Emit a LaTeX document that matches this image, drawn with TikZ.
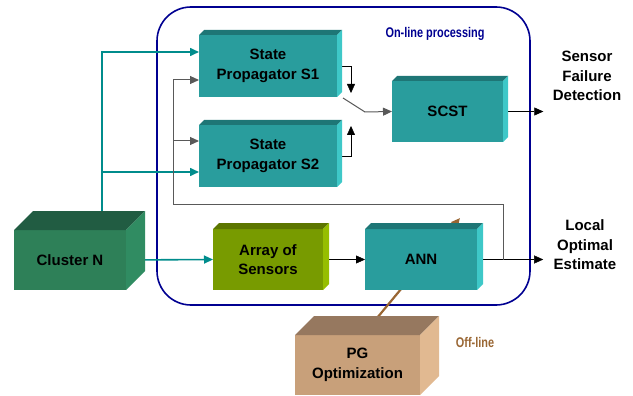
\documentclass[tikz,border=0pt]{standalone}
\usepackage{fontspec}
\setmainfont{Liberation Sans}
\newfontfamily\narrowfont[FakeStretch=0.78]{Liberation Sans}
\usetikzlibrary{arrows.meta,calc,positioning,backgrounds}

\definecolor{tealfront}{RGB}{41,157,157}
\definecolor{tealtop}{RGB}{30,118,118}
\definecolor{tealside}{RGB}{62,200,200}
\definecolor{clusfront}{RGB}{46,128,88}
\definecolor{clustop}{RGB}{33,92,66}
\definecolor{clusside}{RGB}{48,140,98}
\definecolor{arrfront}{RGB}{120,155,0}
\definecolor{arrtop}{RGB}{92,118,0}
\definecolor{arrside}{RGB}{150,190,0}
\definecolor{pgfront}{RGB}{200,160,122}
\definecolor{pgtop}{RGB}{150,120,95}
\definecolor{pgside}{RGB}{225,185,145}
\definecolor{feedteal}{RGB}{0,140,140}
\definecolor{framenavy}{RGB}{0,0,145}
\definecolor{offbrown}{RGB}{153,102,51}

% top and side faces of a solid block: node, top colour, side colour, depth
\newcommand{\boxfaces}[4]{%
  \fill[#2] (#1.north west) -- ++(#4,-#4) -- ($(#1.north east)+(#4,-#4)$) -- (#1.north east) -- cycle;
  \fill[#3] (#1.north east) -- ++(#4,-#4) -- ($(#1.south east)+(#4,-#4)$) -- (#1.south east) -- cycle;
}

\begin{document}
\begin{tikzpicture}
    [x=1pt, y=-1pt, >={Triangle[length=9pt,width=8pt]},
    block/.style={fill=#1, inner sep=0pt, outer sep=0pt, align=center,
      font=\bfseries\fontsize{15}{19.5}\selectfont},
    feed/.style={draw=feedteal, line width=1.6pt},
    back/.style={draw=black!65, line width=1pt},
    caption/.style={align=center, font=\bfseries\fontsize{15}{19.5}\selectfont}]

  \useasboundingbox (0,0) rectangle (633,396);

  \node[block=tealfront, minimum width=138pt, minimum height=62pt] (s1) at (268,66) {State\\Propagator S1};
  \boxfaces{s1}{tealtop}{tealside}{5}
  \node[block=tealfront, minimum width=138pt, minimum height=62pt] (s2) at (268,156) {State\\Propagator S2};
  \boxfaces{s2}{tealtop}{tealside}{5}
  \node[block=tealfront, minimum width=111pt, minimum height=61pt] (scst) at (447.5,111.5) {SCST};
  \boxfaces{scst}{tealtop}{tealside}{5}
  \node[block=arrfront, minimum width=110pt, minimum height=61pt] (arr) at (268,259.5) {Array of\\Sensors};
  \boxfaces{arr}{arrtop}{arrside}{6}
  \node[block=tealfront, minimum width=112pt, minimum height=61pt] (ann) at (421,259.5) {ANN};
  \boxfaces{ann}{tealtop}{tealside}{6}
  \node[block=clusfront, minimum width=112pt, minimum height=60pt] (cluster) at (70,260) {Cluster N};
  \boxfaces{cluster}{clustop}{clusside}{19}
  \node[block=pgfront, minimum width=125pt, minimum height=60pt] (pg) at (357.5,365) {PG\\Optimization};
  \boxfaces{pg}{pgtop}{pgside}{19}

  \node[caption] (sfd) at (587,76) {Sensor\\Failure\\Detection};
  \node[caption] (est) at (585,245) {Local\\Optimal\\Estimate};
  \node[text=framenavy, font=\narrowfont\bfseries\fontsize{14}{16}\selectfont] (online) at (435,34) {On-line processing};
  \node[text=offbrown, font=\narrowfont\bfseries\fontsize{14}{16}\selectfont] (offline) at (475,342) {Off-line};

  \begin{pgfonlayer}{background}
    \draw[framenavy, line width=1.6pt, rounded corners=34pt] (157,7) rectangle (530,305);

    \coordinate (split) at ($(cluster.north)+(32,0)$);
    \coordinate (s2in) at ($(s2.west)+(0,16)$);
    \draw[feed,->] (split) |- ($(s1.west)+(0,-14)$);
    \draw[feed,->] (split |- s2in) -- (s2in);
    \draw[feed,->] (cluster.east) -- (arr.west);

    \draw[->] (arr.east) -- (ann.west);
    \draw[->,shorten >=7pt] (ann.east) -- (ann.east -| est.west);
    \draw[->,shorten >=6pt] (scst.east) -- (scst.east -| sfd.west);

    \coordinate (fb) at ($(ann.east)+(26,0)$);
    \coordinate (bus) at ($(s1.west)+(-26,0)$);
    \coordinate (s1b) at ($(s1.west)+(0,14)$);
    \coordinate (s2b) at ($(s2.west)+(0,-15)$);
    \draw[back,->] (fb) -- ++(0,-55) -| (bus |- s1b) -- (s1b);
    \draw[back,->] (bus |- s2b) -- (s2b);

    \draw[->] (s1.east) -- ++(14,0) -- ++(0,27);
    \draw[->] (s2.east) -- ++(14,0) -- ++(0,-30);
    \draw[back,->] ($(s1.south east)+(6,1)$) -- ++(22,14) -- (scst.west);

    \draw[offbrown, line width=2.2pt, ->] ($(pg.north)+(19.5,-17)$) -- ($(ann.north)+(39,-11)$);
  \end{pgfonlayer}

\end{tikzpicture}
\end{document}
